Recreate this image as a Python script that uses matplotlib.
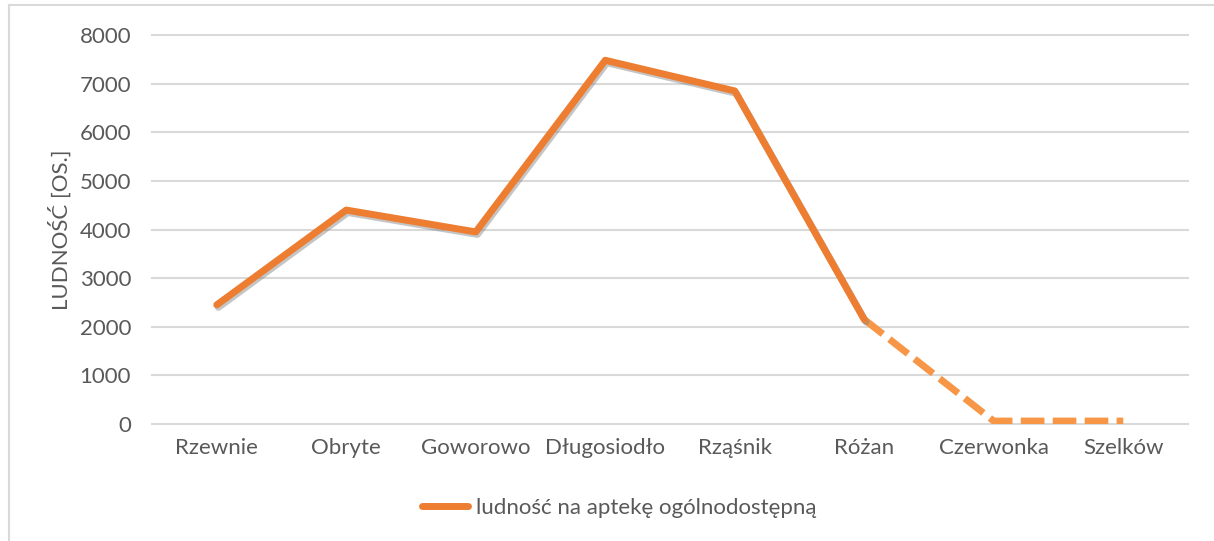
import matplotlib
matplotlib.use("Agg")
import matplotlib.pyplot as plt
import matplotlib.patheffects as pe
from matplotlib.lines import Line2D

plt.rcParams['font.family'] = ['Lato', 'DejaVu Sans']
plt.rcParams['lines.scale_dashes'] = False

categories = ["Rzewnie", "Obryte", "Goworowo", "Długosiodło", "Rząśnik",
              "Różan", "Czerwonka", "Szelków"]
population_per_pharmacy = [2450, 4400, 3950, 7480, 6850, 2150, 60, 60]
solid_count = 6  # points drawn with the solid line; the rest are dashed
series_label = "ludność na aptekę ogólnodostępną"
y_label = "LUDNOŚĆ [OS.]"
y_ticks = [0, 1000, 2000, 3000, 4000, 5000, 6000, 7000, 8000]

W, H = 1214, 541
fig = plt.figure(figsize=(W / 100, H / 100), dpi=100)
ax = fig.add_axes([152 / W, 1 - 424 / H, (1188 - 152) / W, (424 - 35) / H])

text_col = "#595959"
grid_col = "#D9D9D9"
solid_col = "#ED7D31"
dash_col = "#F79646"
fs = 16

x = list(range(len(categories)))

# dashed tail (lighter, no shadow)
ax.plot(x[solid_count - 1:], population_per_pharmacy[solid_count - 1:],
        color=dash_col, lw=5.0, dashes=(17, 6), dash_capstyle='butt',
        dash_joinstyle='miter', zorder=3)

# main solid line with soft shadow
ax.plot(x[:solid_count], population_per_pharmacy[:solid_count],
        color=solid_col, lw=5.0, solid_capstyle='round',
        solid_joinstyle='round', zorder=4,
        path_effects=[pe.SimpleLineShadow(offset=(1.2, -1.8), shadow_color='#808080', alpha=0.45),
                      pe.Normal()])

ax.set_xlim(-0.5, len(categories) - 0.5)
ax.set_ylim(0, 8000)
ax.set_yticks(y_ticks)
ax.set_xticks(x)
ax.set_xticklabels(categories)
ax.tick_params(axis='both', length=0, labelsize=fs, labelcolor=text_col)
ax.tick_params(axis='y', pad=15)
ax.tick_params(axis='x', pad=10)
ax.yaxis.grid(True, color=grid_col, lw=1.5)
ax.set_axisbelow(True)
for s in ax.spines.values():
    s.set_visible(False)
for gl in ax.yaxis.get_gridlines():
    gl.set_clip_on(False)

ax.set_ylabel(y_label, fontsize=fs, color=text_col)
ax.yaxis.set_label_coords((72 - 152) / 1036, 0.5)

# legend entry
handle = Line2D([], [], color=solid_col, lw=5.0, solid_capstyle='round')
fig.legend([handle], [series_label], loc='center', bbox_to_anchor=(619 / W, 1 - 508 / H),
           frameon=False, fontsize=fs, labelcolor=text_col, handlelength=2.1,
           handletextpad=0.35)

# chart frame
fig.add_artist(Line2D([9 / W, 1.01], [1 - 5 / H, 1 - 5 / H], color=grid_col, lw=1.5,
                      transform=fig.transFigure))
fig.add_artist(Line2D([9 / W, 9 / W], [1 - 5 / H, -0.01], color=grid_col, lw=1.5,
                      transform=fig.transFigure))

fig.savefig("out.png", dpi=100, facecolor="white")
